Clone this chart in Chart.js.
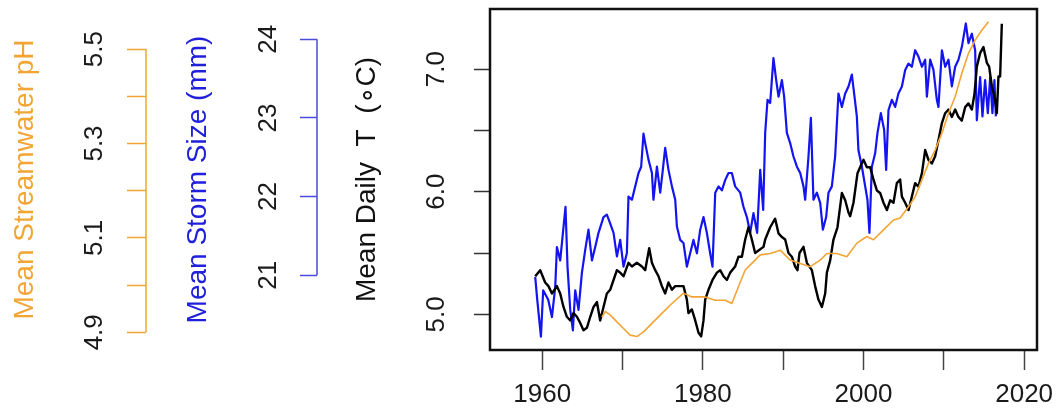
<!DOCTYPE html>
<html>
<head>
<meta charset="utf-8">
<script src="https://cdn.jsdelivr.net/npm/chart.js@4/dist/chart.umd.min.js"></script>
<style>
  body { margin: 0; background: #fff; }
</style>
</head>
<body>
<canvas id="chart" width="1059" height="418"></canvas>
<script>
// series (running means)
const stormYears = [1959.13, 1959.38, 1959.84, 1960.12, 1960.75, 1961.21, 1961.62, 1961.83, 1962.24, 1962.58,
  1962.90, 1963.15, 1963.49, 1963.82, 1964.11, 1964.52, 1964.94, 1965.35, 1965.76, 1966.19,
  1966.60, 1967.01, 1967.63, 1968.05, 1968.46, 1968.88, 1969.30, 1969.71, 1970.12, 1970.54,
  1970.74, 1971.17, 1971.58, 1971.99, 1972.32, 1972.61, 1972.82, 1973.23, 1973.66, 1973.85,
  1974.28, 1974.69, 1974.97, 1975.31, 1975.72, 1976.15, 1976.56, 1976.77, 1977.18, 1977.59,
  1978.01, 1978.42, 1978.83, 1979.26, 1979.67, 1980.08, 1980.50, 1980.91, 1981.20, 1981.54,
  1981.95, 1982.37, 1982.78, 1983.19, 1983.61, 1984.02, 1984.65, 1985.06, 1985.48, 1985.89,
  1986.30, 1986.76, 1987.14, 1987.51, 1987.76, 1988.05, 1988.38, 1988.79, 1989.13, 1989.42,
  1989.84, 1990.12, 1990.46, 1990.87, 1991.28, 1991.71, 1992.12, 1992.53, 1992.74, 1993.15,
  1993.45, 1993.77, 1994.19, 1994.61, 1994.94, 1995.35, 1995.64, 1996.06, 1996.47, 1996.88,
  1997.31, 1997.72, 1998.13, 1998.55, 1998.88, 1999.17, 1999.37, 1999.80, 2000.21, 2000.49,
  2000.74, 2001.04, 2001.45, 2001.74, 2002.16, 2002.57, 2002.82, 2003.11, 2003.53, 2003.94,
  2004.35, 2004.78, 2005.19, 2005.60, 2006.02, 2006.43, 2006.84, 2007.27, 2007.68, 2007.89,
  2008.30, 2008.71, 2009.13, 2009.33, 2009.76, 2010.17, 2010.58, 2011.00, 2011.41, 2011.82,
  2012.24, 2012.74, 2013.07, 2013.49, 2013.90, 2014.11, 2014.52, 2014.81, 2015.14, 2015.48,
  2015.77, 2016.05, 2016.30, 2016.48];
const stormMm = [20.98, 20.69, 20.22, 20.81, 20.69, 20.47, 20.85, 21.36, 21.19, 21.54,
  21.87, 21.11, 20.56, 20.30, 20.81, 20.56, 21.03, 21.32, 21.58, 21.19,
  21.36, 21.54, 21.74, 21.77, 21.66, 21.54, 21.24, 21.45, 21.11, 21.28,
  22.00, 21.96, 22.13, 22.30, 22.38, 22.80, 22.68, 22.47, 22.30, 21.96,
  22.38, 22.05, 22.30, 22.62, 22.34, 22.13, 21.96, 21.62, 21.45, 21.41,
  21.11, 21.28, 21.45, 21.28, 21.58, 21.74, 21.54, 21.28, 21.11, 22.05,
  22.13, 22.08, 22.21, 22.30, 22.30, 22.13, 22.05, 21.87, 21.74, 21.54,
  21.79, 21.54, 22.34, 21.83, 22.81, 23.23, 23.19, 23.76, 23.48, 23.27,
  23.48, 23.27, 22.81, 22.68, 22.51, 22.38, 22.30, 22.13, 21.96, 22.51,
  23.00, 21.96, 22.05, 21.92, 21.58, 21.74, 22.05, 22.13, 22.51, 23.31,
  23.14, 23.31, 23.40, 23.55, 23.27, 23.02, 22.59, 22.38, 22.13, 21.96,
  21.54, 22.38, 22.55, 22.81, 23.06, 22.85, 22.34, 23.10, 23.23, 23.14,
  23.31, 23.40, 23.61, 23.69, 23.65, 23.86, 23.78, 23.65, 23.74, 23.27,
  23.74, 23.61, 23.23, 23.14, 23.86, 23.65, 23.74, 23.40, 23.65, 23.74,
  23.90, 24.20, 23.95, 24.07, 23.86, 22.97, 23.52, 23.02, 23.48, 23.06,
  23.52, 23.06, 23.48, 23.02];

const tempYears = [1959.13, 1959.75, 1960.37, 1960.78, 1961.21, 1961.83, 1962.24, 1962.65, 1963.07, 1963.49,
  1963.90, 1964.32, 1964.73, 1965.14, 1965.56, 1965.98, 1966.39, 1966.81, 1967.22, 1967.63,
  1968.05, 1968.46, 1968.88, 1969.30, 1969.71, 1970.12, 1970.74, 1971.17, 1971.79, 1972.41,
  1972.82, 1973.32, 1973.66, 1974.07, 1974.48, 1974.90, 1975.31, 1975.72, 1976.15, 1976.56,
  1976.97, 1977.59, 1978.01, 1978.21, 1978.63, 1979.05, 1979.46, 1979.79, 1980.08, 1980.29,
  1980.70, 1981.20, 1981.75, 1982.16, 1982.57, 1982.99, 1983.40, 1984.02, 1984.44, 1984.86,
  1985.27, 1985.68, 1986.10, 1986.51, 1986.93, 1987.55, 1987.76, 1988.38, 1989.00, 1989.42,
  1989.84, 1990.25, 1990.66, 1991.08, 1991.49, 1991.78, 1992.03, 1992.53, 1992.95, 1993.57,
  1993.98, 1994.39, 1994.82, 1995.23, 1995.44, 1995.85, 1996.26, 1996.76, 1997.31, 1997.72,
  1998.13, 1998.34, 1998.75, 1999.25, 1999.58, 2000.00, 2000.42, 2000.83, 2001.24, 2001.66,
  2002.07, 2002.49, 2002.91, 2003.32, 2003.73, 2004.15, 2004.56, 2004.78, 2005.19, 2005.60,
  2006.02, 2006.43, 2006.84, 2007.27, 2007.68, 2008.09, 2008.51, 2008.92, 2009.33, 2009.76,
  2010.17, 2010.58, 2011.00, 2011.41, 2011.82, 2012.24, 2012.66, 2013.07, 2013.49, 2013.82,
  2014.11, 2014.52, 2014.93, 2015.36, 2015.64, 2015.98, 2016.39, 2016.60, 2016.80, 2017.01,
  2017.22];
const tempC = [5.31, 5.36, 5.26, 5.23, 5.17, 5.23, 5.17, 5.06, 4.98, 4.95,
  5.01, 4.98, 4.93, 4.87, 4.89, 4.98, 5.06, 5.10, 4.95, 5.06,
  5.17, 5.20, 5.28, 5.36, 5.34, 5.31, 5.42, 5.39, 5.42, 5.39,
  5.36, 5.54, 5.42, 5.36, 5.31, 5.23, 5.17, 5.26, 5.20, 5.23,
  5.23, 5.23, 5.12, 5.01, 5.04, 4.95, 4.85, 4.82, 4.95, 5.12,
  5.20, 5.28, 5.34, 5.36, 5.31, 5.28, 5.34, 5.39, 5.47, 5.47,
  5.61, 5.71, 5.61, 5.50, 5.52, 5.55, 5.61, 5.71, 5.78, 5.66,
  5.63, 5.61, 5.50, 5.47, 5.39, 5.36, 5.50, 5.55, 5.42, 5.36,
  5.23, 5.12, 5.06, 5.17, 5.34, 5.44, 5.61, 5.71, 5.99, 5.93,
  5.83, 5.80, 5.91, 6.15, 6.20, 6.26, 6.20, 6.20, 6.10, 6.01,
  5.99, 5.91, 5.85, 5.93, 5.91, 6.07, 6.10, 5.96, 5.91, 5.85,
  5.96, 6.07, 6.04, 6.15, 6.34, 6.26, 6.23, 6.29, 6.42, 6.56,
  6.64, 6.67, 6.61, 6.67, 6.61, 6.58, 6.69, 6.72, 6.67, 6.80,
  7.02, 7.13, 7.18, 7.05, 7.02, 6.86, 6.75, 6.64, 6.94, 6.94,
  7.37];

const phYears = [1967.43, 1967.84, 1968.46, 1969.30, 1970.12, 1970.95, 1971.79, 1972.61, 1973.66, 1974.90,
  1976.15, 1977.59, 1978.63, 1980.29, 1981.54, 1982.78, 1983.61, 1984.44, 1985.27, 1986.10,
  1987.14, 1988.38, 1989.63, 1990.87, 1992.12, 1993.36, 1994.61, 1995.44, 1996.68, 1997.93,
  1999.17, 2000.42, 2001.24, 2002.49, 2003.73, 2004.56, 2005.60, 2006.43, 2007.27, 2008.09,
  2008.92, 2009.76, 2010.58, 2011.41, 2012.24, 2013.07, 2013.90, 2014.73, 2015.56];
const phValues = [4.932, 4.944, 4.937, 4.922, 4.908, 4.894, 4.891, 4.901, 4.919, 4.940,
  4.961, 4.983, 4.975, 4.975, 4.968, 4.968, 4.961, 4.997, 5.032, 5.046,
  5.064, 5.067, 5.074, 5.053, 5.046, 5.039, 5.053, 5.067, 5.067, 5.060,
  5.089, 5.103, 5.096, 5.117, 5.138, 5.142, 5.166, 5.187, 5.223, 5.258,
  5.286, 5.322, 5.364, 5.399, 5.449, 5.491, 5.519, 5.540, 5.558];

// axis ticks
const yearTicks = [1960, 1970, 1980, 1990, 2000, 2010, 2020];
const yearLabels = [1960, 1980, 2000, 2020];
const tempTicks = [5.0, 5.5, 6.0, 6.5, 7.0];
const tempLabels = [5.0, 6.0, 7.0];
const stormTicks = [21, 22, 23, 24];
const phTicks = [4.9, 5.0, 5.1, 5.2, 5.3, 5.4, 5.5];
const phLabels = [4.9, 5.1, 5.3, 5.5];

const ORANGE = '#F2A535';
const BLUE = '#1414F0';
const FONT = "'Liberation Sans', Arial, sans-serif";

const pts = (xs, ys) => xs.map((x, i) => ({ x: x, y: ys[i] }));
const inList = (list, v) => list.some(l => Math.abs(l - v) < 1e-6);

// fixed box sizes so the stacked axes line up like the original
function fixWidth(w) {
  return s => { s.width = w; s.paddingTop = 0; s.paddingBottom = 0; };
}

function sideAxis(opts) {
  return {
    type: 'linear',
    position: 'left',
    weight: opts.weight,
    min: opts.min,
    max: opts.max,
    afterBuildTicks: s => { s.ticks = opts.ticks.map(v => ({ value: v })); },
    afterFit: fixWidth(opts.width),
    border: { display: false },
    grid: {
      drawOnChartArea: false,
      tickLength: opts.tickLength,
      tickColor: opts.lineColor,
      tickWidth: 1.5
    },
    ticks: {
      autoSkip: false,
      minRotation: 90,
      maxRotation: 90,
      crossAlign: 'center',
      padding: opts.pad,
      color: '#1a1a1a',
      font: { family: FONT, size: 26 },
      callback: opts.label
    },
    title: {
      display: true,
      text: opts.title,
      color: opts.titleColor,
      font: { family: FONT, size: 28 },
      padding: { top: opts.titlePad, bottom: 0 }
    }
  };
}

// plot frame plus the short coloured axis lines
const framePlugin = {
  id: 'frame',
  afterDraw(chart) {
    const { ctx, chartArea: a, scales } = chart;
    ctx.save();
    ctx.strokeStyle = '#111';
    ctx.lineWidth = 2.5;
    ctx.strokeRect(a.left, a.top, a.right - a.left, a.bottom - a.top);
    [['yPH', phTicks, ORANGE], ['yStorm', stormTicks, '#4a4ade']].forEach(([id, t, col]) => {
      const s = scales[id];
      ctx.strokeStyle = col;
      ctx.lineWidth = 1.5;
      ctx.beginPath();
      ctx.moveTo(s.right, s.getPixelForValue(t[0]));
      ctx.lineTo(s.right, s.getPixelForValue(t[t.length - 1]));
      ctx.stroke();
    });
    ctx.restore();
  }
};

new Chart(document.getElementById('chart'), {
  type: 'line',
  data: {
    datasets: [
      { label: 'pH', data: pts(phYears, phValues), yAxisID: 'yPH', borderColor: ORANGE, borderWidth: 1.6, order: 0 },
      { label: 'Temperature', data: pts(tempYears, tempC), yAxisID: 'y', borderColor: '#000', borderWidth: 2.4, order: 1 },
      { label: 'Storm size', data: pts(stormYears, stormMm), yAxisID: 'yStorm', borderColor: BLUE, borderWidth: 2.2, order: 2 }
    ]
  },
  options: {
    responsive: false,
    animation: false,
    devicePixelRatio: 1,
    layout: { padding: { top: 9, right: 22, bottom: 0, left: 0 } },
    elements: { point: { radius: 0 }, line: { tension: 0, borderJoinStyle: 'round' } },
    plugins: { legend: { display: false }, tooltip: { enabled: false } },
    scales: {
      x: {
        type: 'linear',
        min: 1953.5,
        max: 2021.6,
        afterBuildTicks: s => { s.ticks = yearTicks.map(v => ({ value: v })); },
        afterFit: s => { s.height = 68; s.paddingLeft = 0; s.paddingRight = 0; },
        border: { display: false },
        grid: { drawOnChartArea: false, tickLength: 20, tickColor: '#444', tickWidth: 1.5 },
        ticks: {
          autoSkip: false,
          maxRotation: 0,
          padding: 9,
          color: '#1a1a1a',
          font: { family: FONT, size: 26 },
          callback: v => inList(yearLabels, v) ? String(v) : ''
        }
      },
      y: sideAxis({
        weight: 0, width: 173, min: 4.709, max: 7.49, ticks: tempTicks,
        tickLength: 16, lineColor: '#333', pad: 19,
        label: v => inList(tempLabels, v) ? v.toFixed(1) : '',
        title: 'Mean Daily  T  (\u2218C)', titleColor: '#111', titlePad: 33
      }),
      yStorm: sideAxis({
        weight: 1, width: 171, min: 20.051, max: 24.384, ticks: stormTicks,
        tickLength: 17, lineColor: '#4a4ade', pad: 17,
        label: v => String(v),
        title: 'Mean Storm Size (mm)', titleColor: '#2020dc', titlePad: 35
      }),
      yPH: sideAxis({
        weight: 2, width: 146, min: 4.8625, max: 5.585, ticks: phTicks,
        tickLength: 19, lineColor: ORANGE, pad: 14,
        label: v => inList(phLabels, v) ? v.toFixed(1) : '',
        title: 'Mean Streamwater pH', titleColor: ORANGE, titlePad: 8
      })
    }
  },
  plugins: [framePlugin]
});
</script>
</body>
</html>
